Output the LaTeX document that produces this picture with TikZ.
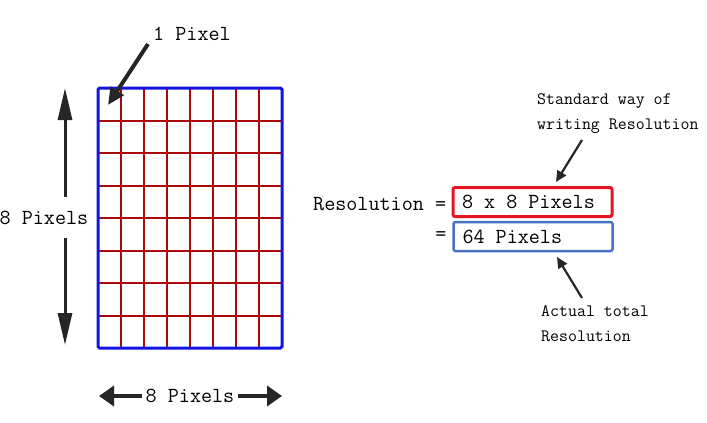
\documentclass[tikz,border=0pt]{standalone}
\usepackage{fontspec}
\usetikzlibrary{arrows.meta,positioning}
\definecolor{gridBlue}{RGB}{20,20,225}
\definecolor{gridRed}{RGB}{170,10,10}
\definecolor{boxRed}{RGB}{228,20,35}
\definecolor{boxBlue}{RGB}{70,115,195}
\definecolor{arrGray}{RGB}{38,38,38}
\tikzset{
    big/.style={font=\ttfamily\fontsize{21.5}{24}\selectfont,inner sep=0pt},
    note/.style={font=\ttfamily\fontsize{17.4}{25}\selectfont,inner sep=0pt,align=flush left},
    resbox/.style={rectangle,rounded corners=2pt,minimum width=159pt,minimum height=29pt,
        inner xsep=9pt,text width=141pt,align=flush left,font=\ttfamily\fontsize{21.5}{24}\selectfont},
    cellline/.style={draw=gridRed,line width=2pt},
    varr/.style={-{Triangle[length=32pt,width=14pt]},line width=3pt,draw=arrGray,fill=arrGray},
    harr/.style={-{Triangle[length=15pt,width=20pt]},line width=4pt,draw=arrGray,fill=arrGray},
    parr/.style={-{Triangle[length=17pt,width=15pt]},line width=4pt,draw=arrGray,fill=arrGray},
    narr/.style={-{Triangle[length=11pt,width=10pt]},line width=2.2pt,draw=arrGray,fill=arrGray}
}
\begin{document}
\begin{tikzpicture}[x=1pt,y=-1pt]
    \useasboundingbox (0,0) rectangle (707,423);
    % pixel grid
    \foreach \i in {1,...,7} {
        \draw[cellline] (98+\i*23,88) -- (98+\i*23,348);
        \draw[cellline] (98,88+\i*32.5) -- (282,88+\i*32.5);
    }
    \node[draw=gridBlue,line width=3pt,rounded corners=1.5pt,minimum width=184pt,
        minimum height=260pt,inner sep=0pt] (grid) at (190,218) {};

    \node[big] (onepx) at (192,34) {1 Pixel};
    \coordinate (pxtail) at (148,44);
    \coordinate (pxtip) at (108,105);
    \draw[parr] (pxtail) -- (pxtip);

    % height
    \node[big] (vlbl) at (44,218) {8 Pixels};
    \coordinate (vtop) at (65,88);
    \coordinate (vbot) at (65,345);
    \coordinate (vup) at (65,197);
    \coordinate (vdown) at (65,238);
    \draw[varr] (vup) -- (vtop);
    \draw[varr] (vdown) -- (vbot);

    % width
    \node[big,inner xsep=4pt] (hlbl) at (190,396) {8 Pixels};
    \coordinate (hleft) at (99,396);
    \coordinate (hright) at (282,396);
    \draw[harr] (hlbl.west) -- (hleft);
    \draw[harr] (hlbl.east) -- (hright);

    % resolution
    \node[big,anchor=west] (res) at (313,204) {Resolution =};
    \node[resbox,draw=boxRed,line width=3pt] (redbox) at (532.5,202) {8 x 8 Pixels};
    \node[resbox,draw=boxBlue,line width=2.5pt] (bluebox) at (533,236.5) {64 Pixels};
    \node[big] (eqtwo) at (441,236) {=};

    \node[note,anchor=west] (std) at (537,114) {Standard way of\\writing Resolution};
    \coordinate (stdtail) at (582,140);
    \coordinate (stdtip) at (556,182);
    \draw[narr] (stdtail) -- (stdtip);

    \node[note,anchor=west] (act) at (541,324) {Actual total\\Resolution};
    \coordinate (acttail) at (582,298);
    \coordinate (acttip) at (557,257);
    \draw[narr] (acttail) -- (acttip);
\end{tikzpicture}
\end{document}
